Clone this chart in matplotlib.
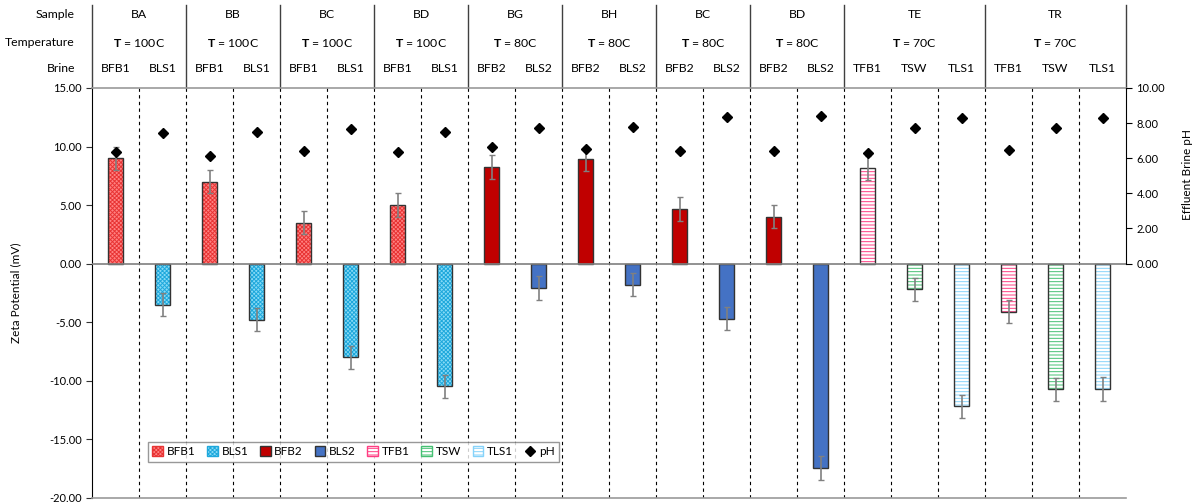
import matplotlib
matplotlib.use("Agg")
import matplotlib.pyplot as plt
import matplotlib.transforms as mtransforms
from matplotlib.patches import Patch
from matplotlib.lines import Line2D
import numpy as np

plt.rcParams['font.family'] = ['Lato', 'DejaVu Sans']
plt.rcParams['mathtext.fontset'] = 'custom'
plt.rcParams['mathtext.bf'] = 'Lato:bold'
plt.rcParams['mathtext.rm'] = 'Lato'
plt.rcParams['hatch.linewidth'] = 0.7

# --- data ---
samples = ['BA', 'BB', 'BC', 'BD', 'BG', 'BH', 'BC', 'BD', 'TE', 'TR']
temps = ['100C', '100C', '100C', '100C', '80C', '80C', '80C', '80C', '70C', '70C']
group_sizes = [2, 2, 2, 2, 2, 2, 2, 2, 3, 3]
brines = ['BFB1', 'BLS1', 'BFB1', 'BLS1', 'BFB1', 'BLS1', 'BFB1', 'BLS1',
          'BFB2', 'BLS2', 'BFB2', 'BLS2', 'BFB2', 'BLS2', 'BFB2', 'BLS2',
          'TFB1', 'TSW', 'TLS1', 'TFB1', 'TSW', 'TLS1']
zeta = [9.0, -3.5, 7.0, -4.8, 3.5, -8.0, 5.0, -10.5,
        8.25, -2.1, 8.95, -1.8, 4.65, -4.7, 4.0, -17.45,
        8.15, -2.2, -12.2, -4.1, -10.75, -10.7]
zeta_err = [1.0] * 22
ph = [6.33, 7.43, 6.1, 7.47, 6.42, 7.66, 6.37, 7.51,
      6.62, 7.7, 6.52, 7.76, 6.42, 8.36, 6.42, 8.38,
      6.31, 7.72, 8.3, 6.46, 7.7, 8.3]

# brine -> (face, hatch colour, hatch)
styles = {
    'BFB1': ('#ff8282', '#e83434', 'xxxxxxxx'),
    'BLS1': ('#86daf6', '#1ea8dc', 'xxxxxxxx'),
    'BFB2': ('#c00000', None, ''),
    'BLS2': ('#4472c4', None, ''),
    'TFB1': ('white', '#ff3d82', '-----'),
    'TSW': ('white', '#45c072', '-----'),
    'TLS1': ('white', '#86d3fa', '-----'),
}

fig = plt.figure(figsize=(11.94, 5.04), dpi=100)
ax = fig.add_axes([92 / 1194, 1 - 497.7 / 504, 1034 / 1194, 409.7 / 504])
x = np.arange(len(zeta))
w = 0.33

for i, (b, v) in enumerate(zip(brines, zeta)):
    face, hc, hatch = styles[b]
    if hatch:
        ax.bar(x[i], v, w, color=face, edgecolor=hc, hatch=hatch, linewidth=0, zorder=2)
    else:
        ax.bar(x[i], v, w, color=face, linewidth=0, zorder=2)
    ax.bar(x[i], v, w, fill=False, edgecolor='#333333', linewidth=1.0, zorder=3)

ax.errorbar(x, zeta, yerr=zeta_err, fmt='none', ecolor='#808080',
            elinewidth=1.2, capsize=2, capthick=1, zorder=4)

ax.set_xlim(-0.5, len(zeta) - 0.5)
ax.set_ylim(-20, 15)
ax.set_yticks(np.arange(-20, 16, 5))
ax.yaxis.set_major_formatter(matplotlib.ticker.FormatStrFormatter('%.2f'))
ax.set_xticks([])
ax.axhline(0, color='#7f7f7f', linewidth=1.2, zorder=3)
for xb in x[:-1] + 0.5:
    ax.axvline(xb, color='black', linestyle=(0, (3, 3)), linewidth=0.8, zorder=1)
ax.tick_params(axis='y', labelsize=8, direction='out', length=4, color='#333333')
ax.set_ylabel('Zeta Potential (mV)', fontsize=8.5)
ax.yaxis.set_label_coords(-0.068, 0.5)
for s in ['top', 'bottom']:
    ax.spines[s].set_color('#9a9a9a')
    ax.spines[s].set_linewidth(1.2)
ax.spines['right'].set_visible(False)
ax.spines['left'].set_color('black')

ax2 = ax.twinx()
ax2.plot(x, ph, linestyle='none', marker='D', color='black', markersize=5.5, zorder=5)
ax2.set_ylim(-20 * 10 / 15, 10)
ax2.set_yticks(np.arange(0, 11, 2))
ax2.yaxis.set_major_formatter(matplotlib.ticker.FormatStrFormatter('%.2f'))
ax2.tick_params(axis='y', labelsize=8, direction='out', length=4)
ax2.spines['right'].set_bounds(0, 10)
for s in ['top', 'bottom', 'left']:
    ax2.spines[s].set_visible(False)
ax2.set_ylabel('Effluent Brine pH', fontsize=8.5)
ax2.yaxis.set_label_coords(1.054, 0.788)

# --- header table ---
trans = mtransforms.blended_transform_factory(ax.transData, fig.transFigure)
row_y = [1 - 15 / 504, 1 - 43 / 504, 1 - 68 / 504]
top_y = 1 - 5 / 504
ax_top = 1 - 88 / 504
hfs = 8.8
for lab, yy in zip(['Sample', 'Temperature', 'Brine'], row_y):
    fig.text(75 / 1194, yy, lab, ha='right', va='center', fontsize=hfs)

start = 0
bounds = [-0.5]
for smp, t, n in zip(samples, temps, group_sizes):
    cx = start + (n - 1) / 2
    ax.text(cx, row_y[0], smp, transform=trans, ha='center', va='center', fontsize=hfs)
    ax.text(cx, row_y[1], r'$\mathbf{T}$ = ' + t, transform=trans, ha='center',
            va='center', fontsize=hfs)
    start += n
    bounds.append(start - 0.5)
for i, b in enumerate(brines):
    ax.text(x[i], row_y[2], b, transform=trans, ha='center', va='center', fontsize=hfs)
for xb in bounds:
    ax.add_line(Line2D([xb, xb], [ax_top, top_y], transform=trans, color='#404040',
                       linewidth=1.0, clip_on=False))

# --- legend ---
handles = []
for b in ['BFB1', 'BLS1', 'BFB2', 'BLS2', 'TFB1', 'TSW', 'TLS1']:
    face, hc, hatch = styles[b]
    handles.append(Patch(facecolor=face, edgecolor=hc if hc else '#333333',
                         hatch=hatch, label=b))
handles.append(Line2D([], [], linestyle='none', marker='D', color='black',
                      markersize=5, label='pH'))
leg = ax.legend(handles=handles, loc='center', bbox_to_anchor=(0.253, 0.112), ncol=8,
                fontsize=8.5, frameon=True, fancybox=False, handlelength=0.9,
                handleheight=0.9, handletextpad=0.3, columnspacing=1.0,
                borderpad=0.4)
leg.get_frame().set_edgecolor('#7f7f7f')
leg.set_zorder(10)

fig.savefig('out.png', dpi=100)
